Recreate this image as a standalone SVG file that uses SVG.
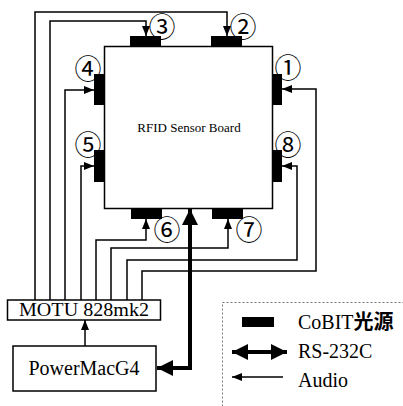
<svg xmlns="http://www.w3.org/2000/svg" width="403" height="406" viewBox="0 0 403 406">
<style>
.w{fill:none;stroke:#000;stroke-width:1.5}
.a{fill:none;stroke:#000;stroke-width:1.5;marker-end:url(#ah)}
.rs{fill:none;stroke:#000;stroke-width:4;marker-start:url(#bh);marker-end:url(#bh)}
.box{fill:#fff;stroke:#000;stroke-width:1.5}
.cb{fill:#000}
.t{font-family:"Liberation Serif","Times New Roman",Times,serif;fill:#000}
.j{font-family:"Noto Sans CJK JP",sans-serif;font-weight:bold}
.n{font-family:"Noto Sans CJK JP","DejaVu Sans",sans-serif;font-size:27px;fill:#000;text-anchor:middle}
</style>
<defs>
<marker id="ah" viewBox="0 0 10 8" refX="10" refY="4" markerWidth="10" markerHeight="8" markerUnits="userSpaceOnUse" orient="auto"><path d="M0,0L10,4L0,8z" fill="#000"/></marker>
<marker id="bh" viewBox="0 0 16 16" refX="16" refY="8" markerWidth="16" markerHeight="16" markerUnits="userSpaceOnUse" orient="auto-start-reverse"><path d="M0,0L16,8L0,16z" fill="#000"/></marker>
</defs>
<g id="board">
<rect class="box" x="104.5" y="46.5" width="168" height="162"/>
<text class="t" x="189" y="132" font-size="13" text-anchor="middle">RFID Sensor Board</text>
</g>
<g id="cobit">
<g id="c1"><rect class="cb" x="273" y="74" width="9" height="31"/><text class="n" x="288" y="78">①</text></g>
<g id="c2"><rect class="cb" x="211" y="36" width="31" height="10"/><text class="n" x="243" y="37">②</text></g>
<g id="c3"><rect class="cb" x="130" y="36" width="31" height="10"/><text class="n" x="162" y="37">③</text></g>
<g id="c4"><rect class="cb" x="94" y="74" width="10" height="31"/><text class="n" x="88" y="79">④</text></g>
<g id="c5"><rect class="cb" x="94" y="150" width="10" height="32"/><text class="n" x="88" y="155">⑤</text></g>
<g id="c6"><rect class="cb" x="131" y="209" width="31" height="10"/><text class="n" x="167" y="240">⑥</text></g>
<g id="c7"><rect class="cb" x="212" y="209" width="31" height="10"/><text class="n" x="249" y="240">⑦</text></g>
<g id="c8"><rect class="cb" x="273" y="150" width="9" height="32"/><text class="n" x="288" y="155">⑧</text></g>
</g>
<g id="motu">
<rect class="box" x="7.5" y="300" width="153" height="20"/>
<text class="t" x="19" y="316" font-size="18" textLength="130" lengthAdjust="spacingAndGlyphs">MOTU 828mk2</text>
</g>
<g id="powermac">
<rect class="box" x="13" y="346" width="143" height="45"/>
<text class="t" x="84" y="375" font-size="20" text-anchor="middle">PowerMacG4</text>
</g>
<g id="connectors">
<path class="a" d="M35,300V12H227V36"/>
<path class="a" d="M50,300V21H146V36"/>
<path class="a" d="M65,300V90H94"/>
<path class="a" d="M81,300V166H94"/>
<path class="a" d="M96,300V240H146V219"/>
<path class="a" d="M111,300V248H228V219"/>
<path class="a" d="M127,300V260H297V166H282"/>
<path class="a" d="M142,300V271H316V89H282"/>
<path class="a" d="M85,346V320"/>
<path class="rs" d="M190,209V368H157"/>
</g>
<g id="legend">
<rect x="222.5" y="302.5" width="200" height="120" fill="none" stroke="#777" stroke-width="1" stroke-dasharray="2,2"/>
<rect class="cb" x="242" y="317" width="32" height="10"/>
<path class="rs" d="M232,352H287"/>
<path class="a" d="M283,377H232"/>
<text class="t" x="298" y="329" font-size="20">CoBIT<tspan class="j">光源</tspan></text>
<text class="t" x="298" y="358" font-size="20">RS-232C</text>
<text class="t" x="298" y="387" font-size="20">Audio</text>
</g>
</svg>
